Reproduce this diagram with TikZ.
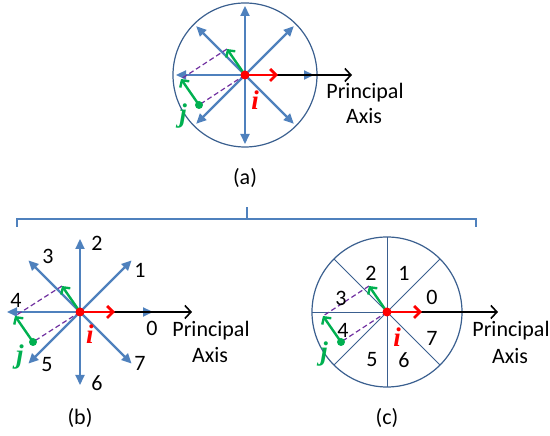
\documentclass[tikz,border=0pt]{standalone}
\usepackage{fontspec}
\setmainfont{Carlito}
\newfontfamily\ijfont{Liberation Serif}
\usetikzlibrary{arrows.meta,calc}
\definecolor{blueA}{HTML}{4F81BD}
\definecolor{ringc}{HTML}{3A5F8F}
\definecolor{grn}{HTML}{00B050}
\definecolor{purp}{HTML}{7030A0}
\tikzset{
  blu/.style={draw=blueA, line width=2.2pt, -{Triangle[length=10pt,width=9pt]}},
  ring/.style={draw=ringc, line width=1.2pt},
  sector/.style={draw=ringc, line width=0.9pt},
  pax/.style={draw=black, line width=1.6pt, -{Straight Barb[length=6pt,width=13pt]}},
  iarr/.style={draw=red, line width=2.8pt, -{Straight Barb[length=6pt,width=12pt]}},
  jarr/.style={draw=grn, line width=2.4pt, -{Straight Barb[length=5pt,width=11pt]}},
  proj/.style={draw=purp, dashed, dash pattern=on 5pt off 3pt, line width=1.2pt},
  brace/.style={draw=blueA, line width=2.2pt},
  lbl/.style={font=\fontsize{22}{26}\selectfont, inner sep=0pt},
  ilbl/.style={font=\fontsize{27}{30}\selectfont\ijfont\bfseries\itshape, inner sep=0pt, text=red},
  jlbl/.style={font=\fontsize{27}{30}\selectfont\ijfont\bfseries\itshape, inner sep=0pt, text=grn},
  txt/.style={font=\fontsize{22}{26}\selectfont, inner sep=0pt, anchor=base}
}
\begin{document}
\begin{tikzpicture}[x=1pt,y=1pt]
\useasboundingbox (0,0) rectangle (550,436);
% ---------- (a)
\coordinate (ca) at (245,361);
\draw[ring] (ca) circle (72pt);
\foreach \a in {0,45,...,315} \draw[blu] (ca) -- ++(\a:69pt);
\coordinate (pa) at (352,361);
\draw[pax] (ca) -- (pa);
\coordinate (ia) at (278,361);
\coordinate (ja) at ($(ca)+(-46,-30)$);
\coordinate (jta) at ($(ja)+(-18,26)$);
\coordinate (gta) at ($(ca)+(-18,26)$);
\draw[proj] (ca) -- (ja);
\draw[proj] (gta) -- (jta);
\draw[jarr] (ja) -- (jta);
\draw[jarr] (ca) -- (gta);
\draw[iarr] (ca) -- (ia);
\fill[grn] (ja) circle (4pt);
\fill[red] (ca) circle (4.5pt);
\node[ilbl] (ila) at ($(ca)+(10,-25)$) {i};
\node[jlbl] (jla) at ($(ca)+(-62,-41)$) {j};
\node[txt] (pra) at (365,337) {Principal};
\node[txt] (axa) at (364,312) {Axis};
\node[txt] (capa) at (245,251) {(a)};
% ---------- brace
\coordinate (bl) at (17,209);
\coordinate (br) at (476,209);
\coordinate (bm) at (247,217);
\coordinate (bt) at (247,229);
\draw[brace] (bl) |- (bm) -| (br);
\draw[brace] (bm) -- (bt);
% ---------- (b)
\coordinate (cb) at (80,124);
\foreach \a in {0,45,...,315} \draw[blu] (cb) -- ++(\a:73pt);
\coordinate (pb) at (192,124);
\draw[pax] (cb) -- (pb);
\coordinate (ib) at (115,124);
\coordinate (jb) at ($(cb)+(-47,-30)$);
\coordinate (jtb) at ($(jb)+(-18,26)$);
\coordinate (gtb) at ($(cb)+(-18,26)$);
\draw[proj] (cb) -- (jb);
\draw[proj] (gtb) -- (jtb);
\draw[jarr] (jb) -- (jtb);
\draw[jarr] (cb) -- (gtb);
\draw[iarr] (cb) -- (ib);
\fill[grn] (jb) circle (4pt);
\fill[red] (cb) circle (4.5pt);
\node[ilbl] (ilb) at ($(cb)+(10,-22)$) {i};
\node[jlbl] (jlb) at ($(cb)+(-60,-45)$) {j};
\node[lbl] (b0) at (152,108) {0};
\node[lbl] (b1) at (140,166) {1};
\node[lbl] (b2) at (97,193) {2};
\node[lbl] (b3) at (48,180) {3};
\node[lbl] (b4) at (16,136) {4};
\node[lbl] (b5) at (47,71) {5};
\node[lbl] (b6) at (97,53) {6};
\node[lbl] (b7) at (140,73) {7};
\node[txt] (prb) at (211,99) {Principal};
\node[txt] (axb) at (210,73) {Axis};
\node[txt] (capb) at (80,11) {(b)};
% ---------- (c)
\coordinate (cc) at (387,124);
\draw[ring] (cc) circle (75pt);
\foreach \a in {0,45,90,135} \draw[sector] ($(cc)+(\a:75pt)$) -- ($(cc)+(\a+180:75pt)$);
\coordinate (pc) at (498,124);
\draw[pax] (cc) -- (pc);
\coordinate (ic) at (422,124);
\coordinate (jc) at ($(cc)+(-46,-30)$);
\coordinate (jtc) at ($(jc)+(-18,26)$);
\coordinate (gtc) at ($(cc)+(-18,26)$);
\draw[proj] (cc) -- (jc);
\draw[proj] (gtc) -- (jtc);
\draw[jarr] (jc) -- (jtc);
\draw[jarr] (cc) -- (gtc);
\draw[iarr] (cc) -- (ic);
\fill[grn] (jc) circle (4pt);
\fill[red] (cc) circle (4.5pt);
\node[ilbl] (ilc) at ($(cc)+(10,-25)$) {i};
\node[jlbl] (jlc) at ($(cc)+(-63,-42)$) {j};
\node[lbl] (c0) at (432,139) {0};
\node[lbl] (c1) at (404,163) {1};
\node[lbl] (c2) at (371,163) {2};
\node[lbl] (c3) at (341,138) {3};
\node[lbl] (c4) at (343,106) {4};
\node[lbl] (c5) at (372,76) {5};
\node[lbl] (c6) at (404,76) {6};
\node[lbl] (c7) at (432,98) {7};
\node[txt] (prc) at (511,99) {Principal};
\node[txt] (axc) at (510,72) {Axis};
\node[txt] (capc) at (387,11) {(c)};
\end{tikzpicture}
\end{document}
